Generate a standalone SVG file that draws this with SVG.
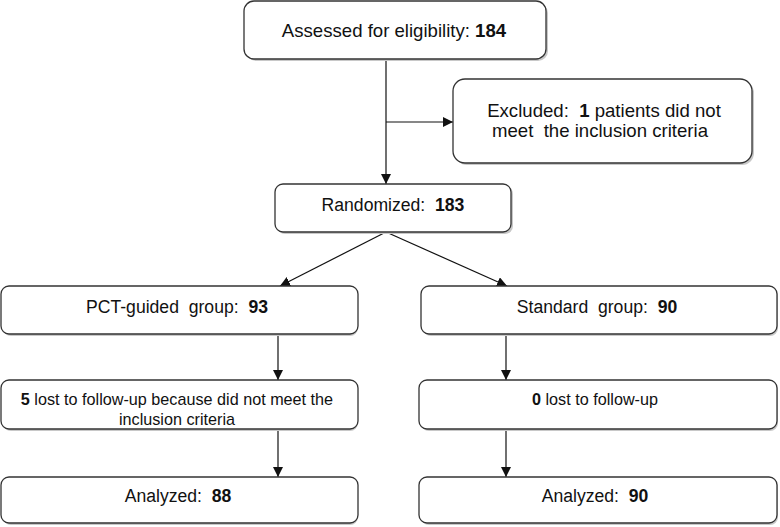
<svg xmlns="http://www.w3.org/2000/svg" width="780" height="527" viewBox="0 0 780 527">
<style>
.box{fill:#fff;stroke:#333;stroke-width:1.3}
.sh{fill:#c8c8c8}
text{font-family:"Liberation Sans",Arial,sans-serif;font-size:17.6px;fill:#111;text-anchor:middle;white-space:pre}
.l{font-size:18.6px}
.s{font-size:16.2px}
.b{font-weight:bold}
.c{stroke:#111;stroke-width:1.2;fill:none}
</style>
<defs>
<marker id="ah" viewBox="0 0 10 10" refX="10" refY="5" markerWidth="10" markerHeight="10" markerUnits="userSpaceOnUse" orient="auto">
<path d="M0,0 L10,5 L0,10 z" fill="#111"/>
</marker>
</defs>
<rect width="780" height="527" fill="#fff"/>
<g id="connectors">
<line class="c" x1="386" y1="59" x2="386" y2="184" marker-end="url(#ah)"/>
<line class="c" x1="386" y1="122" x2="453" y2="122" marker-end="url(#ah)"/>
<line class="c" x1="386" y1="232" x2="280" y2="286" marker-end="url(#ah)"/>
<line class="c" x1="386" y1="232" x2="507" y2="286" marker-end="url(#ah)"/>
<line class="c" x1="278" y1="334" x2="278" y2="380" marker-end="url(#ah)"/>
<line class="c" x1="506" y1="334" x2="506" y2="380" marker-end="url(#ah)"/>
<line class="c" x1="278" y1="429" x2="278" y2="477" marker-end="url(#ah)"/>
<line class="c" x1="506" y1="429" x2="506" y2="477" marker-end="url(#ah)"/>
</g>
<g id="assessed">
<rect class="sh" x="246" y="3" width="302" height="58" rx="10"/>
<rect class="box" x="244" y="1" width="302" height="58" rx="10"/>
<text class="l" x="394" y="37" xml:space="preserve">Assessed for eligibility: <tspan class="b">184</tspan></text>
</g>
<g id="excluded">
<rect class="sh" x="455" y="81" width="299" height="84" rx="12"/>
<rect class="box" x="453" y="79" width="299" height="84" rx="12"/>
<text class="l" x="604" y="117" xml:space="preserve">Excluded:  <tspan class="b">1</tspan> patients did not</text>
<text class="l" x="600" y="137" xml:space="preserve">meet  the inclusion criteria</text>
</g>
<g id="randomized">
<rect class="sh" x="277" y="186" width="236" height="48" rx="8"/>
<rect class="box" x="275" y="184" width="236" height="48" rx="8"/>
<text x="393" y="211" xml:space="preserve">Randomized:  <tspan class="b">183</tspan></text>
</g>
<g id="pct">
<rect class="sh" x="3" y="288" width="355" height="48" rx="8"/>
<rect class="box" x="1" y="286" width="357" height="48" rx="8"/>
<text x="177" y="313" xml:space="preserve">PCT-guided  group:  <tspan class="b">93</tspan></text>
</g>
<g id="standard">
<rect class="sh" x="423" y="288" width="355" height="48" rx="8"/>
<rect class="box" x="421" y="286" width="356" height="48" rx="8"/>
<text x="597" y="313" xml:space="preserve">Standard  group:  <tspan class="b">90</tspan></text>
</g>
<g id="lost-pct">
<rect class="sh" x="3" y="382" width="355" height="49" rx="8"/>
<rect class="box" x="1" y="380" width="357" height="49" rx="8"/>
<text class="s" x="177" y="405"><tspan class="b">5</tspan> lost to follow-up because did not meet the</text>
<text class="s" x="177" y="425">inclusion criteria</text>
</g>
<g id="lost-std">
<rect class="sh" x="421" y="382" width="357" height="49" rx="8"/>
<rect class="box" x="419" y="380" width="358" height="49" rx="8"/>
<text class="s" x="595" y="405"><tspan class="b">0</tspan> lost to follow-up</text>
</g>
<g id="analyzed-pct">
<rect class="sh" x="3" y="479" width="355" height="46" rx="8"/>
<rect class="box" x="1" y="477" width="357" height="46" rx="8"/>
<text x="178" y="502" xml:space="preserve">Analyzed:  <tspan class="b">88</tspan></text>
</g>
<g id="analyzed-std">
<rect class="sh" x="421" y="479" width="357" height="46" rx="8"/>
<rect class="box" x="419" y="477" width="358" height="46" rx="8"/>
<text x="595" y="502" xml:space="preserve">Analyzed:  <tspan class="b">90</tspan></text>
</g>
</svg>
